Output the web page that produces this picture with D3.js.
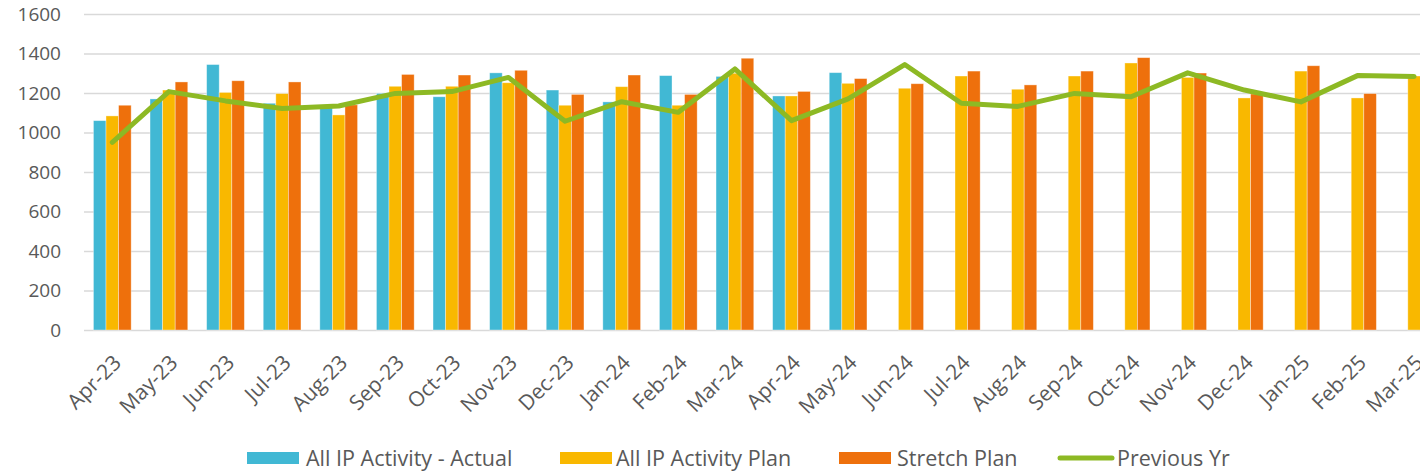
<!DOCTYPE html>
<html>
<head>
<meta charset="utf-8">
<script src="https://cdn.jsdelivr.net/npm/d3@7"></script>
<style>
  html, body { margin: 0; padding: 0; background: #ffffff; }
  svg { display: block; }
  .tick text { fill: #595959; font-family: "Open Sans", sans-serif; }
</style>
</head>
<body>
<svg id="chart" width="1420" height="474"></svg>
<script>
// Monthly inpatient activity, Apr-23 to Mar-25
const months = ["Apr-23","May-23","Jun-23","Jul-23","Aug-23","Sep-23","Oct-23","Nov-23","Dec-23","Jan-24","Feb-24","Mar-24",
                "Apr-24","May-24","Jun-24","Jul-24","Aug-24","Sep-24","Oct-24","Nov-24","Dec-24","Jan-25","Feb-25","Mar-25"];
const actual  = [1060, 1170, 1344, 1148, 1132, 1198, 1181, 1302, 1215, 1155, 1288, 1284, 1185, 1303,
                 null, null, null, null, null, null, null, null, null, null];
const plan    = [1084, 1215, 1203, 1197, 1089, 1234, 1234, 1252, 1138, 1232, 1138, 1300,
                 1185, 1249, 1224, 1286, 1219, 1286, 1352, 1279, 1175, 1311, 1175, 1286];
const stretch = [1138, 1256, 1262, 1256, 1140, 1294, 1291, 1315, 1193, 1291, 1193, 1376,
                 1208, 1273, 1247, 1311, 1241, 1311, 1379, 1301, 1195, 1338, 1197, 1310];
const prevYr  = [950, 1207, 1160, 1122, 1134, 1198, 1207, 1279, 1057, 1156, 1102, 1322,
                 1060, 1170, 1344, 1148, 1132, 1198, 1181, 1302, 1215, 1155, 1288, 1284];
const yTicks  = [0, 200, 400, 600, 800, 1000, 1200, 1400, 1600];

const seriesNames = ["All IP Activity - Actual", "All IP Activity Plan", "Stretch Plan"];
const lineName = "Previous Yr";
const colors = { actual: "#41B8D4", plan: "#F9B800", stretch: "#EE700C", prev: "#8DB924" };

const svg = d3.select("#chart");
const plotLeft = 84, plotTop = 14, plotBottom = 330;
const step = 56.6;

const x = d3.scaleBand()
  .domain(months)
  .range([plotLeft, plotLeft + step * months.length])
  .paddingInner(1 / 3)
  .paddingOuter(1 / 6);

const keys = ["actual", "plan", "stretch"];
const x1 = d3.scaleBand().domain(keys).range([0, x.bandwidth()]);

const y = d3.scaleLinear().domain([0, 1600]).range([plotBottom, plotTop]);

// horizontal gridlines
const grid = svg.append("g")
  .attr("transform", `translate(${plotLeft},0)`)
  .call(d3.axisLeft(y).tickValues(yTicks).tickSize(-(x.range()[1] - plotLeft)).tickFormat(""));
grid.select(".domain").remove();
grid.selectAll(".tick line").attr("stroke", "#D9D9D9").attr("stroke-width", 1.6);

// y axis labels
const yAxis = svg.append("g")
  .attr("transform", `translate(${plotLeft},0)`)
  .call(d3.axisLeft(y).tickValues(yTicks).tickFormat(d3.format("d")).tickSize(0).tickPadding(23));
yAxis.select(".domain").remove();
yAxis.selectAll(".tick text").style("font-size", "19px");

// bars
const rows = months.map((m, i) => ({ month: m, actual: actual[i], plan: plan[i], stretch: stretch[i] }));
const groups = svg.append("g").selectAll("g")
  .data(rows)
  .join("g")
  .attr("transform", d => `translate(${x(d.month)},0)`);

groups.selectAll("rect")
  .data(d => keys.map(k => ({ key: k, value: d[k] })).filter(e => e.value != null))
  .join("rect")
  .attr("x", d => x1(d.key))
  .attr("y", d => y(d.value))
  .attr("width", x1.bandwidth())
  .attr("height", d => y(0) - y(d.value))
  .attr("fill", d => colors[d.key])
  .attr("stroke", "rgba(255,255,255,0.45)")
  .attr("stroke-width", 0.8);

// previous year line
const line = d3.line()
  .x((d, i) => x(months[i]) + x.bandwidth() / 2)
  .y(d => y(d));
svg.append("path")
  .datum(prevYr)
  .attr("d", line)
  .attr("fill", "none")
  .attr("stroke", colors.prev)
  .attr("stroke-width", 5)
  .attr("stroke-linejoin", "round")
  .attr("stroke-linecap", "round");

// x axis labels
const xAxis = svg.append("g")
  .attr("transform", `translate(0,${plotBottom})`)
  .call(d3.axisBottom(x).tickSize(0));
xAxis.select(".domain").remove();
xAxis.selectAll(".tick text")
  .style("font-size", "21px")
  .attr("text-anchor", "end")
  .attr("dy", "0")
  .attr("transform", "translate(8,32) rotate(-45)");

// legend
const legend = svg.append("g").attr("font-family", "Open Sans, sans-serif").attr("font-size", "21.5px").attr("fill", "#595959");
const legendItems = [
  { name: seriesNames[0], color: colors.actual, sx: 247, tx: 306, type: "rect" },
  { name: seriesNames[1], color: colors.plan, sx: 560, tx: 616, type: "rect" },
  { name: seriesNames[2], color: colors.stretch, sx: 839, tx: 897, type: "rect" },
  { name: lineName, color: colors.prev, sx: 1060, tx: 1117, type: "line" }
];
legendItems.forEach(it => {
  if (it.type === "rect") {
    legend.append("rect").attr("x", it.sx).attr("y", 452).attr("width", 52).attr("height", 12).attr("fill", it.color);
  } else {
    legend.append("line").attr("x1", it.sx).attr("x2", it.sx + 52).attr("y1", 458).attr("y2", 458)
      .attr("stroke", it.color).attr("stroke-width", 5).attr("stroke-linecap", "round");
  }
  legend.append("text").attr("x", it.tx).attr("y", 458).attr("dy", "0.35em").text(it.name);
});
</script>
</body>
</html>
